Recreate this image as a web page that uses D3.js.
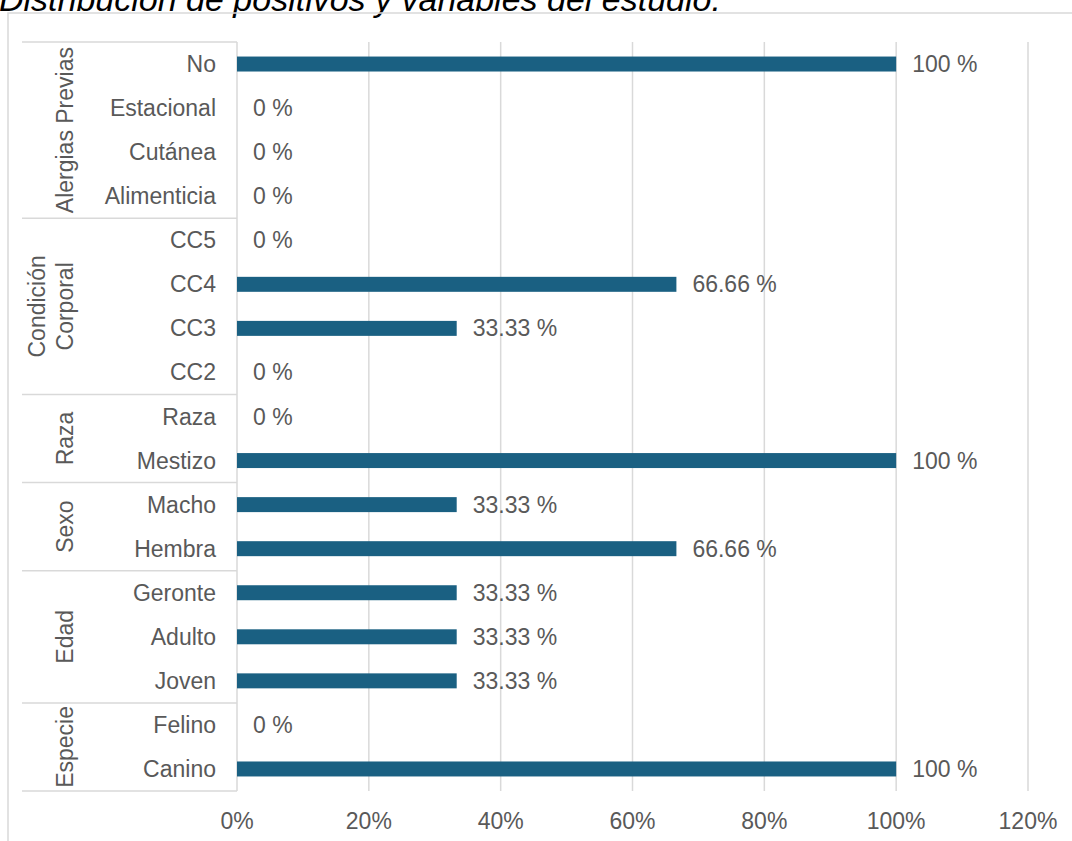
<!DOCTYPE html>
<html>
<head>
<meta charset="utf-8">
<script src="https://cdn.jsdelivr.net/npm/d3@7"></script>
<style>
  html, body { margin: 0; padding: 0; background: #fff; }
  svg { display: block; font-family: "Liberation Sans", Arial, sans-serif; }
</style>
</head>
<body>
<svg id="chart" width="1072" height="841"></svg>
<script>
// Row categories, top to bottom
const categories = ["No", "Estacional", "Cutánea", "Alimenticia",
  "CC5", "CC4", "CC3", "CC2",
  "Raza", "Mestizo",
  "Macho", "Hembra",
  "Geronte", "Adulto", "Joven",
  "Felino", "Canino"];

// Percentage of positives per category
const values = [100, 0, 0, 0,
  0, 66.66, 33.33, 0,
  0, 100,
  33.33, 66.66,
  33.33, 33.33, 33.33,
  0, 100];

// Variable groups: name lines and number of rows each covers
const groupNames = [["Alergias Previas"], ["Condición", "Corporal"], ["Raza"], ["Sexo"], ["Edad"], ["Especie"]];
const groupSizes = [4, 4, 2, 2, 3, 2];

// Axis ticks (fractions of 1)
const xTicks = [0, 0.2, 0.4, 0.6, 0.8, 1.0, 1.2];

const titleText = "Distribución de positivos y variables del estudio.";

const svg = d3.select("#chart");
const textColor = "#595959";
const gridColor = "#d9d9d9";
const barColor = "#1a6082";
const fontSize = 23;

const x = d3.scaleLinear().domain([0, 1.2]).range([237, 1028]);
const y = d3.scaleBand().domain(categories).range([42, 791])
  .paddingInner(0.66).paddingOuter(0.33);
const step = y.step();

// Title (runs above the top edge of the page)
svg.append("text")
  .attr("x", -1).attr("y", 11)
  .attr("font-size", 34).attr("font-style", "italic")
  .attr("fill", "#000")
  .text(titleText);

// Chart frame
svg.append("rect")
  .attr("x", 8).attr("y", 13).attr("width", 1080).attr("height", 840)
  .attr("fill", "none").attr("stroke", gridColor).attr("stroke-width", 1.5);

// Vertical gridlines
svg.append("g").selectAll("line").data(xTicks.slice(1)).join("line")
  .attr("x1", d => x(d)).attr("x2", d => x(d))
  .attr("y1", 42).attr("y2", 791)
  .attr("stroke", gridColor).attr("stroke-width", 1.5);

// Group separators on the category axis
const rowTop = i => y.range()[0] + i * step;
const bounds = [0];
groupSizes.forEach(s => bounds.push(bounds[bounds.length - 1] + s));
svg.append("g").selectAll("line").data(bounds).join("line")
  .attr("x1", 22).attr("x2", x(0))
  .attr("y1", d => rowTop(d)).attr("y2", d => rowTop(d))
  .attr("stroke", gridColor).attr("stroke-width", 1.5);
svg.append("line")
  .attr("x1", x(0)).attr("x2", x(0)).attr("y1", 42).attr("y2", 791)
  .attr("stroke", gridColor).attr("stroke-width", 1.5);

// Bars
svg.append("g").selectAll("rect").data(categories).join("rect")
  .attr("x", x(0))
  .attr("y", d => y(d))
  .attr("width", (d, i) => x(values[i] / 100) - x(0))
  .attr("height", y.bandwidth())
  .attr("fill", barColor);

// Value labels
const fmt = v => (v === 0 ? "0" : (Number.isInteger(v) ? String(v) : v.toFixed(2))) + " %";
svg.append("g").selectAll("text").data(categories).join("text")
  .attr("x", (d, i) => x(values[i] / 100) + 16)
  .attr("y", d => y(d) + y.bandwidth() / 2)
  .attr("dy", "0.35em")
  .attr("font-size", fontSize).attr("fill", textColor)
  .text((d, i) => fmt(values[i]));

// Category labels
svg.append("g").selectAll("text").data(categories).join("text")
  .attr("x", 216)
  .attr("y", d => y(d) + y.bandwidth() / 2)
  .attr("dy", "0.35em")
  .attr("text-anchor", "end")
  .attr("font-size", fontSize).attr("fill", textColor)
  .text(d => d);

// Group labels, rotated
groupNames.forEach((lines, gi) => {
  const cy = (rowTop(bounds[gi]) + rowTop(bounds[gi + 1])) / 2;
  const cx = 65;
  const lh = 28;
  const t = svg.append("text")
    .attr("transform", `translate(${cx},${cy}) rotate(-90)`)
    .attr("text-anchor", "middle")
    .attr("font-size", fontSize).attr("fill", textColor);
  lines.forEach((ln, li) => {
    t.append("tspan")
      .attr("x", 0)
      .attr("y", (li - (lines.length - 1)) * lh)
      .attr("dy", "0.35em")
      .text(ln);
  });
});

// X axis tick labels
svg.append("g").selectAll("text").data(xTicks).join("text")
  .attr("x", d => x(d))
  .attr("y", 821)
  .attr("dy", "0.35em")
  .attr("text-anchor", "middle")
  .attr("font-size", fontSize).attr("fill", textColor)
  .text(d => d3.format(".0%")(d));
</script>
</body>
</html>
